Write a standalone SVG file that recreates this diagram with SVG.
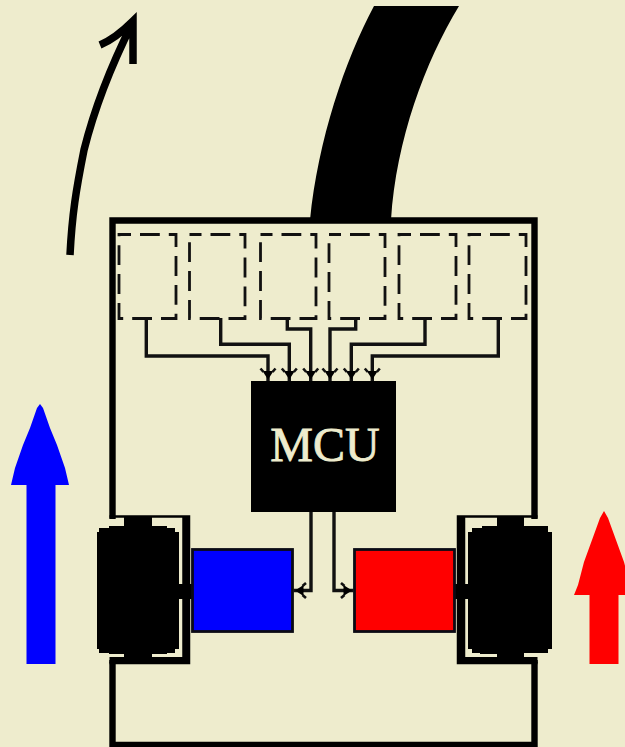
<svg xmlns="http://www.w3.org/2000/svg" width="625" height="747" viewBox="0 0 625 747">
<style>
.body{fill:none;stroke:#000;stroke-width:6.400}
.sensor{fill:none;stroke:#111;stroke-width:2.800;stroke-dasharray:19.8 9;stroke-dashoffset:7.8}
.wire{fill:none;stroke:#111;stroke-width:3.400;marker-end:url(#head)}
.motor{stroke:#0a0a14;stroke-width:2.800}
</style>
<defs>
<marker id="head" markerUnits="userSpaceOnUse" viewBox="0 0 24 20" markerWidth="24" markerHeight="20" refX="14" refY="10" orient="auto">
<path d="M12.500 10L4 4.500V15.500Z" fill="#000"/>
<path d="M1.500 2.500L5 5.500M1.500 17.500L5 14.500" fill="none" stroke="#111" stroke-width="2.600"/>
</marker>
</defs>
<rect width="625" height="747" fill="#eeeccd"/>
<g id="path-track"><path d="M374 6H459C425 62 396 140 391 220H310C318 140 345 60 374 6Z" fill="#000"/></g>
<g id="turn-arrow"><path d="M70 255C72 215 76 190 84 150C92 118 108 72 132 24M100 45C112 40 124 30 133 21V64" fill="none" stroke="#000" stroke-width="7.500"/></g>
<g id="chassis">
<path class="body" d="M112.500 519V220.500H534.500V519M112.500 660V745H534.500V660"/>
<path d="M109.500 516.500H189V663H109.500M537.500 516.500H458V663H537.500" fill="none" stroke="#000" stroke-width="2.500"/>
<path d="M185.500 516V662M462 516V662" stroke="#000" stroke-width="6.500"/>
<path d="M109.500 660H186M537.500 660H461" stroke="#000" stroke-width="6"/>
</g>
<g id="sensor-1"><rect class="sensor" x="119" y="234.500" width="57" height="84"/></g>
<g id="sensor-2"><rect class="sensor" x="189.500" y="234.500" width="55.500" height="84"/></g>
<g id="sensor-3"><rect class="sensor" x="260.500" y="234.500" width="55.500" height="84"/></g>
<g id="sensor-4"><rect class="sensor" x="329" y="234.500" width="56" height="84"/></g>
<g id="sensor-5"><rect class="sensor" x="399" y="234.500" width="57" height="84"/></g>
<g id="sensor-6"><rect class="sensor" x="469" y="234.500" width="57" height="84"/></g>
<g id="connectors">
<path class="wire" d="M146.300 318V356H268V381"/>
<path class="wire" d="M220.700 318V344.300H289.300V381"/>
<path class="wire" d="M287.300 318V329H310.700V381"/>
<path class="wire" d="M355.700 318V329H330V381"/>
<path class="wire" d="M425 318V344.300H351.300V381"/>
<path class="wire" d="M498.300 318V356H372.300V381"/>
<path class="wire" d="M311 512V590.500H293.500"/>
<path class="wire" d="M334 512V590.500H353.500"/>
</g>
<g id="mcu"><rect x="251" y="381" width="145" height="131" fill="#000"/><text x="325" y="460.500" text-anchor="middle" font-family="'Liberation Serif',serif" font-size="48" stroke="#eeeccd" stroke-width="0.800" fill="#eeeccd">MCU</text></g>
<g id="wheel-left"><path d="M124 517H152V526H167V528H175V532H179V649H175V653H167V654H152V663H124V654H109V653H99V649H97V532H99V528H109V526H124Z" fill="#000"/><rect x="178" y="584" width="16" height="15" fill="#000"/></g>
<g id="wheel-right"><path d="M497 517H524V526H548V532H552V649H548V653H524V663H497V654H480V653H472V649H468V532H472V528H482V526H497Z" fill="#000"/><rect x="455" y="584" width="14" height="15" fill="#000"/></g>
<g id="motor-left"><rect class="motor" x="192.500" y="549.500" width="100" height="82" fill="#00f"/></g>
<g id="motor-right"><rect class="motor" x="354.500" y="549.500" width="100" height="82" fill="#f00"/></g>
<g id="speed-left"><path d="M26.500 664V485H11L15 468L23 445L30 428L37 408L40 404L43 408L50 428L57 445L65 468L69 485H55.500V664Z" fill="#00f"/></g>
<g id="speed-right"><path d="M589.500 664V595H574L578 585L584 562L592 540L600 518L604 511L608 518L616 540L624 562L630 585L634 595H618.500V664Z" fill="#f00"/></g>
</svg>
